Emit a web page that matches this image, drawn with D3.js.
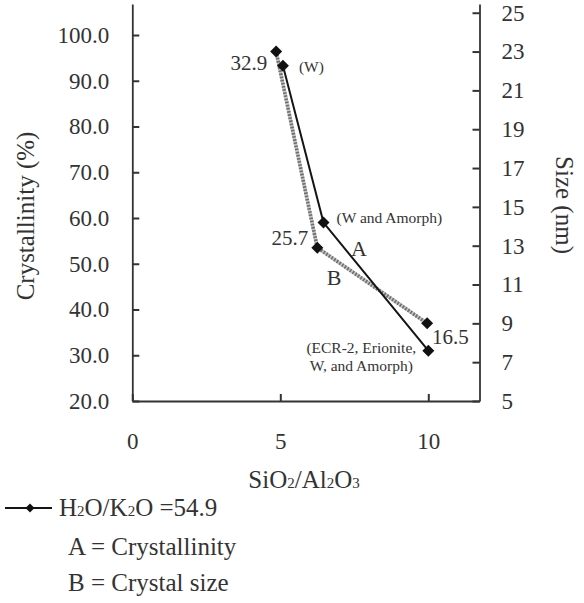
<!DOCTYPE html>
<html>
<head>
<meta charset="utf-8">
<script src="https://cdn.jsdelivr.net/npm/d3@7"></script>
<style>
  body { margin: 0; background: #fff; }
</style>
</head>
<body>
<svg width="584" height="603" font-family="Liberation Serif, DejaVu Serif, serif"></svg>
<script>
// series
var ratioA = [5.09, 6.46, 10.0];          // SiO2/Al2O3 for crystallinity
var crystallinity = [93.3, 59.0, 31.0];   // %
var ratioB = [4.86, 6.25, 9.96];          // SiO2/Al2O3 for crystal size
var crystalSize = [23.0, 12.9, 9.0];      // nm
var sizeLabels = ['32.9', '25.7', '16.5'];
var phaseLabels = [['(W)'], ['(W and Amorph)'], ['(ECR-2, Erionite,', 'W, and Amorph)']];
var leftTicks = [20, 30, 40, 50, 60, 70, 80, 90, 100];
var rightTicks = [5, 7, 9, 11, 13, 15, 17, 19, 21, 23, 25];
var xTicks = [0, 5, 10];

var serif = 'Liberation Serif, DejaVu Serif, serif';

function main() {
	var svg = d3.select('svg');
	var ink = '#333';

	var x = d3.scaleLinear().domain([0, 11.73]).range([132.3, 479.5]);
	var yL = d3.scaleLinear().domain([20, 106.78]).range([401, 4]);
	var yR = d3.scaleLinear().domain([5, 25.45]).range([401, 4]);

	// axes, ticks pointing inside
	var gx = svg.append('g').attr('transform', 'translate(0,401)')
		.call(d3.axisBottom(x).tickValues(xTicks).tickSizeInner(-7).tickSizeOuter(0).tickPadding(32).tickFormat(d3.format('d')));
	var gl = svg.append('g').attr('transform', 'translate(132.3,0)')
		.call(d3.axisLeft(yL).tickValues(leftTicks).tickSizeInner(-7).tickSizeOuter(0).tickPadding(23).tickFormat(d3.format('.1f')));
	var gr = svg.append('g').attr('transform', 'translate(479.5,0)')
		.call(d3.axisRight(yR).tickValues(rightTicks).tickSizeInner(-7).tickSizeOuter(0).tickPadding(22).tickFormat(d3.format('d')));

	[gx, gl, gr].forEach(function(g) {
		g.attr('font-family', serif).attr('font-size', 23);
		g.select('.domain').attr('stroke', ink).attr('stroke-width', 1.8);
		g.selectAll('.tick line').attr('stroke', ink).attr('stroke-width', 2);
		g.selectAll('.tick text').attr('fill', ink);
	});

	// axis titles
	svg.append('text')
		.attr('transform', 'translate(34,216) rotate(-90)')
		.attr('text-anchor', 'middle').attr('font-size', 25).attr('fill', ink)
		.text('Crystallinity (%)');
	svg.append('text')
		.attr('transform', 'translate(556,205) rotate(90)')
		.attr('text-anchor', 'middle').attr('font-size', 25).attr('fill', ink)
		.text('Size (nm)');

	var xt = svg.append('text').attr('x', 304).attr('y', 488)
		.attr('text-anchor', 'middle').attr('font-size', 25).attr('fill', ink);
	subText(xt, [['SiO'], ['2', 1], ['/Al'], ['2', 1], ['O'], ['3', 1]]);

	// B: crystal size, dotted grey
	var ptsB = ratioB.map(function(d, i) { return [x(d), yR(crystalSize[i])]; });
	var ptsA = ratioA.map(function(d, i) { return [x(d), yL(crystallinity[i])]; });
	var line = d3.line();

	svg.append('path').attr('d', line(ptsB)).attr('fill', 'none')
		.attr('stroke', '#c4c4c4').attr('stroke-width', 3.6);
	svg.append('path').attr('d', line(ptsB)).attr('fill', 'none')
		.attr('stroke', '#6e6e6e').attr('stroke-width', 3.6).attr('stroke-dasharray', '1.6,1.6');

	// A: crystallinity, solid black
	svg.append('path').attr('d', line(ptsA)).attr('fill', 'none')
		.attr('stroke', '#151515').attr('stroke-width', 2);

	var diamond = d3.symbol().type(d3.symbolSquare).size(72);
	svg.selectAll('path.mk')
		.data(ptsB.concat(ptsA))
		.enter().append('path')
		.attr('class', 'mk')
		.attr('d', diamond)
		.attr('fill', '#111')
		.attr('transform', function(d) { return 'translate(' + d[0] + ',' + d[1] + ') rotate(45)'; });

	// size labels next to B points
	var sizeOff = [[-9, 18, 'end'], [-9, -3, 'end'], [5, 21, 'start']];
	svg.selectAll('text.sz')
		.data(sizeLabels)
		.enter().append('text')
		.attr('class', 'sz')
		.attr('x', function(d, i) { return ptsB[i][0] + sizeOff[i][0]; })
		.attr('y', function(d, i) { return ptsB[i][1] + sizeOff[i][1]; })
		.attr('text-anchor', function(d, i) { return sizeOff[i][2]; })
		.attr('font-size', 21).attr('fill', ink)
		.text(function(d) { return d; });

	// phase labels next to A points
	var phaseOff = [[16, 6, 'start'], [13, 0, 'start'], [-67, 2, 'middle']];
	phaseLabels.forEach(function(lines, i) {
		var t = svg.append('text')
			.attr('x', ptsA[i][0] + phaseOff[i][0])
			.attr('y', ptsA[i][1] + phaseOff[i][1])
			.attr('text-anchor', phaseOff[i][2])
			.attr('font-size', 15.5).attr('fill', ink);
		lines.forEach(function(s, j) {
			t.append('tspan').attr('x', ptsA[i][0] + phaseOff[i][0])
				.attr('dy', j ? 18 : 0).text(s);
		});
	});

	// series letters
	svg.append('text').attr('x', 359).attr('y', 256).attr('text-anchor', 'middle').attr('font-size', 22).attr('fill', ink).text('A');
	svg.append('text').attr('x', 334).attr('y', 285).attr('text-anchor', 'middle').attr('font-size', 22).attr('fill', ink).text('B');

	// legend
	svg.append('line').attr('x1', 5).attr('x2', 52).attr('y1', 508).attr('y2', 508)
		.attr('stroke', '#151515').attr('stroke-width', 2);
	svg.append('path').attr('d', d3.symbol().type(d3.symbolSquare).size(40))
		.attr('fill', '#111').attr('transform', 'translate(30,508) rotate(45)');
	var lg = svg.append('text').attr('x', 59).attr('y', 516).attr('font-size', 25).attr('fill', ink);
	subText(lg, [['H'], ['2', 1], ['O/K'], ['2', 1], ['O =54.9']]);
	svg.append('text').attr('x', 68).attr('y', 555).attr('font-size', 25).attr('fill', ink).text('A = Crystallinity');
	svg.append('text').attr('x', 68).attr('y', 591).attr('font-size', 25).attr('fill', ink).text('B = Crystal size');
}

// text with small baseline digits
function subText(t, parts) {
	parts.forEach(function(p) {
		t.append('tspan').attr('font-size', p[1] ? 15 : null).text(p[0]);
	});
}

main();
</script>
</body>
</html>
